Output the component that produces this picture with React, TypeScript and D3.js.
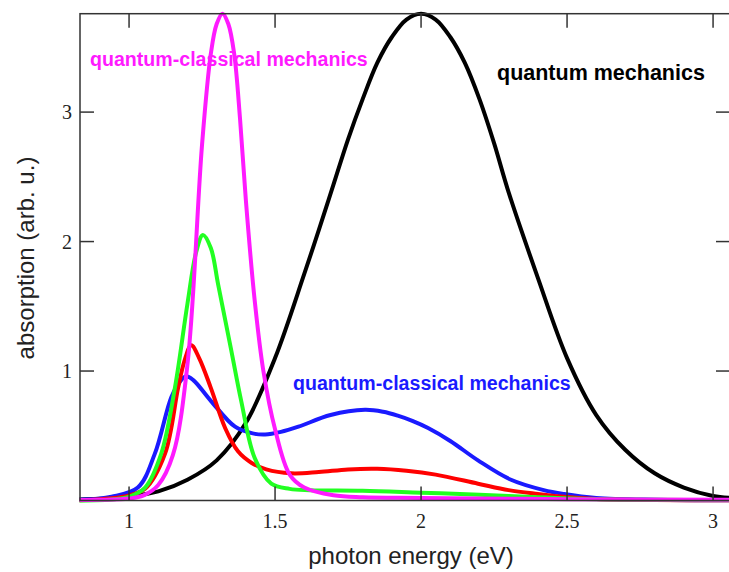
import React, { useEffect, useRef } from 'react'
import * as d3 from 'd3'

// photon energy (eV) vs absorption (arb. u.)
const qmEnergy = [0.83, 0.9, 1.0, 1.1, 1.2, 1.3, 1.4, 1.5, 1.6, 1.65, 1.7, 1.75, 1.8, 1.85, 1.9, 1.95, 2.0, 2.05, 2.1, 2.15, 2.2, 2.25, 2.3, 2.4, 2.5, 2.6, 2.7, 2.8, 2.9, 3.0, 3.06]
const qmAbs = [0.008, 0.013, 0.03, 0.07, 0.16, 0.31, 0.6, 1.1, 1.75, 2.09, 2.44, 2.79, 3.1, 3.38, 3.58, 3.715, 3.76, 3.715, 3.58, 3.38, 3.1, 2.76, 2.38, 1.72, 1.1, 0.66, 0.39, 0.21, 0.1, 0.035, 0.02]

const blueEnergy = [0.83, 0.94, 1.03, 1.088, 1.145, 1.175, 1.195, 1.22, 1.28, 1.363, 1.42, 1.466, 1.52, 1.58, 1.69, 1.808, 1.87, 1.92, 1.97, 2.024, 2.1, 2.195, 2.308, 2.42, 2.49, 2.6, 2.8, 3.06]
const blueAbs = [0.005, 0.03, 0.1, 0.36, 0.8, 0.92, 0.96, 0.93, 0.77, 0.57, 0.52, 0.51, 0.53, 0.57, 0.66, 0.7, 0.685, 0.655, 0.615, 0.56, 0.46, 0.31, 0.16, 0.08, 0.05, 0.02, 0.006, 0.002]

const redEnergy = [0.83, 0.95, 1.0, 1.055, 1.123, 1.168, 1.19, 1.213, 1.24, 1.28, 1.329, 1.373, 1.42, 1.47, 1.555, 1.65, 1.75, 1.85, 1.95, 2.05, 2.195, 2.3, 2.4, 2.48, 2.6, 2.8, 3.06]
const redAbs = [0.002, 0.02, 0.04, 0.09, 0.36, 0.87, 1.08, 1.2, 1.1, 0.87, 0.56, 0.38, 0.29, 0.24, 0.21, 0.22, 0.24, 0.245, 0.23, 0.2, 0.13, 0.08, 0.05, 0.03, 0.012, 0.004, 0.002]

const greenEnergy = [0.83, 0.95, 1.0, 1.055, 1.11, 1.157, 1.2, 1.23, 1.253, 1.28, 1.305, 1.35, 1.384, 1.43, 1.487, 1.55, 1.62, 1.8, 2.0, 2.2, 2.4, 2.6, 2.8, 3.06]
const greenAbs = [0.0, 0.01, 0.03, 0.1, 0.36, 0.87, 1.52, 1.92, 2.05, 1.95, 1.67, 1.16, 0.77, 0.33, 0.13, 0.09, 0.08, 0.075, 0.06, 0.045, 0.025, 0.01, 0.005, 0.003]

const magEnergy = [0.83, 0.9, 1.0, 1.05, 1.1, 1.15, 1.2, 1.25, 1.28, 1.3, 1.32, 1.34, 1.36, 1.38, 1.4, 1.43, 1.46, 1.5, 1.55, 1.6, 1.7, 1.8, 2.0, 2.5, 3.06]
const magAbs = [0.003, 0.005, 0.015, 0.04, 0.12, 0.35, 1.05, 2.75, 3.45, 3.68, 3.76, 3.68, 3.45, 2.95, 2.32, 1.55, 1.0, 0.55, 0.2, 0.1, 0.04, 0.025, 0.02, 0.01, 0.005]

const xTicks = [1, 1.5, 2, 2.5, 3]
const yTicks = [1, 2, 3]

const series = [
  { x: qmEnergy, y: qmAbs, color: '#000000' },
  { x: blueEnergy, y: blueAbs, color: '#1a1aff' },
  { x: redEnergy, y: redAbs, color: '#ff0000' },
  { x: greenEnergy, y: greenAbs, color: '#22ff22' },
  { x: magEnergy, y: magAbs, color: '#ff1aff' },
]

const labels = [
  { text: 'quantum-classical mechanics', color: '#ff1aff', x: 90, y: 66, size: 19.6 },
  { text: 'quantum mechanics', color: '#000000', x: 497, y: 80, size: 21.5 },
  { text: 'quantum-classical mechanics', color: '#1a1aff', x: 293, y: 390, size: 19.6 },
]

const App = () => {
  const ref = useRef<SVGSVGElement>(null)

  useEffect(() => {
    const svg = d3.select(ref.current)
    svg.selectAll('*').remove()

    const left = 80, right = 730, top = 13.7, bottom = 500.5
    const x = d3.scaleLinear().domain([0.832, 3.058]).range([left, right])
    const y = d3.scaleLinear().domain([0, 3.76]).range([bottom, top])

    const line = d3.line<[number, number]>()
      .x(d => x(d[0]))
      .y(d => y(d[1]))
      .curve(d3.curveCatmullRom.alpha(0.5))

    const g = svg.append('g')

    series.forEach(s => {
      const pts = s.x.map((v, i) => [v, s.y[i]] as [number, number])
      g.append('path')
        .attr('d', line(pts))
        .attr('fill', 'none')
        .attr('stroke', s.color)
        .attr('stroke-width', 4)
        .attr('stroke-linejoin', 'round')
    })

    // frame
    const frame = '#333'
    g.append('rect')
      .attr('x', left).attr('y', top)
      .attr('width', right - left).attr('height', bottom - top)
      .attr('fill', 'none').attr('stroke', frame).attr('stroke-width', 1.5)

    const tl = 14
    xTicks.forEach(t => {
      g.append('line').attr('x1', x(t)).attr('x2', x(t)).attr('y1', bottom).attr('y2', bottom - tl)
        .attr('stroke', frame).attr('stroke-width', 1.5)
      g.append('line').attr('x1', x(t)).attr('x2', x(t)).attr('y1', top).attr('y2', top + tl)
        .attr('stroke', frame).attr('stroke-width', 1.5)
      g.append('text').attr('x', x(t)).attr('y', bottom + 27)
        .attr('text-anchor', 'middle')
        .style('font-family', '"Liberation Serif", serif').style('font-size', '20px')
        .attr('fill', '#222')
        .text(String(t))
    })
    yTicks.forEach(t => {
      g.append('line').attr('x1', left).attr('x2', left + tl).attr('y1', y(t)).attr('y2', y(t))
        .attr('stroke', frame).attr('stroke-width', 1.5)
      g.append('line').attr('x1', right).attr('x2', right - tl).attr('y1', y(t)).attr('y2', y(t))
        .attr('stroke', frame).attr('stroke-width', 1.5)
      g.append('text').attr('x', left - 8).attr('y', y(t) + 7)
        .attr('text-anchor', 'end')
        .style('font-family', '"Liberation Serif", serif').style('font-size', '20px')
        .attr('fill', '#222')
        .text(String(t))
    })

    g.append('text')
      .attr('x', 411).attr('y', 564)
      .attr('text-anchor', 'middle')
      .style('font-family', '"Liberation Sans", Arial, sans-serif').style('font-size', '24px')
      .attr('fill', '#222')
      .text('photon energy (eV)')

    g.append('text')
      .attr('transform', 'translate(34,258) rotate(-90)')
      .attr('text-anchor', 'middle')
      .style('font-family', '"Liberation Sans", Arial, sans-serif').style('font-size', '24px')
      .attr('fill', '#222')
      .text('absorption (arb. u.)')

    labels.forEach(l => {
      g.append('text')
        .attr('x', l.x).attr('y', l.y)
        .style('font-family', '"Liberation Sans", Arial, sans-serif').style('font-size', l.size + 'px')
        .style('font-weight', 'bold')
        .attr('fill', l.color)
        .text(l.text)
    })
  }, [])

  return (
    <svg ref={ref} width={729} height={572}
      style={{ position: 'absolute', left: 0, top: 0, background: '#fff' }} />
  )
}

export default App
